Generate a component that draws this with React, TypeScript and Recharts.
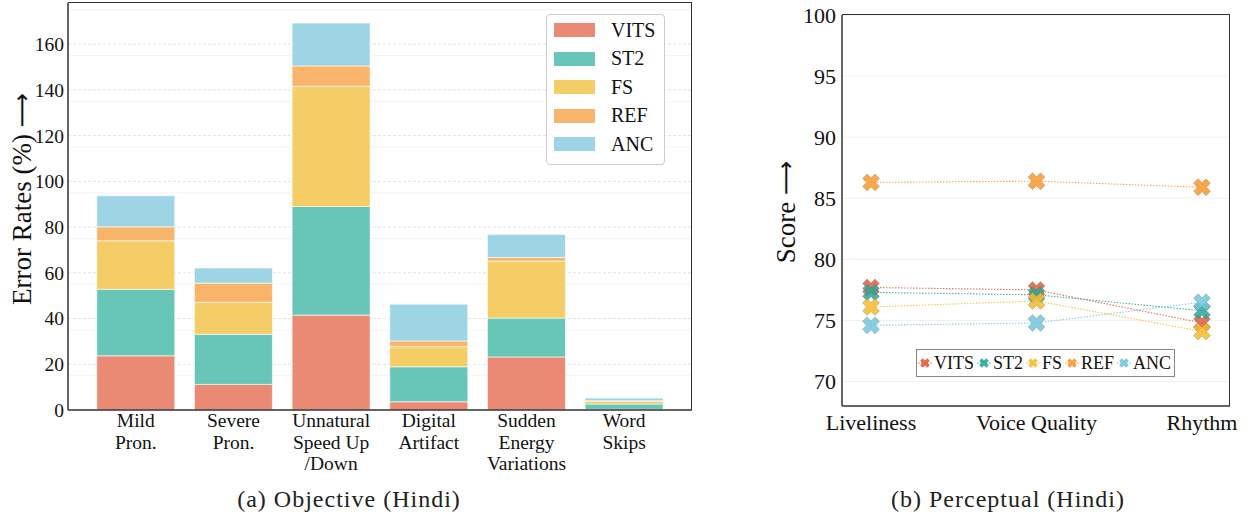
import React from 'react';
import { BarChart, Bar, LineChart, Line, XAxis, YAxis, CartesianGrid, Legend } from 'recharts';

// (a) objective error rates, stacked per model
const errorCategories = ['Mild\nPron.', 'Severe\nPron.', 'Unnatural\nSpeed Up\n/Down', 'Digital\nArtifact', 'Sudden\nEnergy\nVariations', 'Word\nSkips'];
const models = ['VITS', 'ST2', 'FS', 'REF', 'ANC'];
const vitsErr = [23.7, 11.2, 41.5, 3.6, 23.2, 0.3];
const st2Err = [29.1, 21.9, 47.5, 15.3, 17.0, 2.3];
const fsErr = [21.2, 14.0, 52.6, 8.8, 24.9, 1.3];
const refErr = [6.1, 8.4, 8.9, 2.5, 1.6, 0.1];
const ancErr = [13.6, 6.6, 18.7, 16.1, 10.1, 1.2];
const errorTicks = [0, 20, 40, 60, 80, 100, 120, 140, 160];
const errorMinor = [5, 10, 15, 25, 30, 35, 45, 50, 55, 65, 70, 75, 85, 90, 95, 105, 110, 115, 125, 130, 135, 145, 150, 155, 165, 170, 175];

// (b) perceptual scores
const aspects = ['Liveliness', 'Voice Quality', 'Rhythm'];
const vitsScore = [77.7, 77.5, 74.8];
const st2Score = [77.3, 77.1, 75.8];
const fsScore = [76.1, 76.6, 74.1];
const refScore = [86.3, 86.4, 85.9];
const ancScore = [74.6, 74.8, 76.5];
const scoreTicks = [70, 75, 80, 85, 90, 95, 100];
const scoreMinor = [69, 71, 72, 73, 74, 76, 77, 78, 79, 81, 82, 83, 84, 86, 87, 88, 89, 91, 92, 93, 94, 96, 97, 98, 99];

const barColors = ['#EA8A74', '#67C6B7', '#F5CD67', '#F9B46B', '#9ED5E5'];
const lineColors = ['#E05C3C', '#2AA697', '#F5BC2C', '#F7982C', '#72C5DC'];

const serif = "'Liberation Serif', 'Times New Roman', serif";

const errorData = errorCategories.map((c, i) => ({
  name: c,
  VITS: vitsErr[i],
  ST2: st2Err[i],
  FS: fsErr[i],
  REF: refErr[i],
  ANC: ancErr[i],
}));

const scoreData = aspects.map((a, i) => ({
  name: a,
  VITS: vitsScore[i],
  ST2: st2Score[i],
  FS: fsScore[i],
  REF: refScore[i],
  ANC: ancScore[i],
}));

// thick "X" marker, like matplotlib's filled X
const xPath = (cx: number, cy: number, a: number) => {
  const w = a * 0.36;
  const pts = [[-w, -a], [w, -a], [w, -w], [a, -w], [a, w], [w, w], [w, a], [-w, a], [-w, w], [-a, w], [-a, -w], [-w, -w]];
  const s = Math.SQRT1_2;
  return pts.map(([x, y], i) => `${i ? 'L' : 'M'}${(cx + (x - y) * s).toFixed(2)},${(cy + (x + y) * s).toFixed(2)}`).join(' ') + ' Z';
};

const makeDot = (color: string) => (props: any) => {
  const { cx, cy, index } = props;
  if (cx == null || cy == null) return <g key={index} />;
  return (
    <path key={index} d={xPath(cx, cy, 8.8)} fill={color} fillOpacity={0.85} stroke="#777" strokeOpacity={0.5} strokeWidth={0.7} />
  );
};

const CategoryTick = (props: any) => {
  const { x, y, payload } = props;
  const lines = String(payload.value).split('\n');
  return (
    <text x={x} y={y} textAnchor="middle" fontFamily={serif} fontSize={19.5} fill="#111">
      {lines.map((l, i) => (
        <tspan key={i} x={x} dy={i === 0 ? 17 : 21.5}>{l}</tspan>
      ))}
    </text>
  );
};

const BarLegend = () => (
  <div style={{ border: '1px solid #cccccc', borderRadius: 4, background: 'rgba(255,255,255,0.9)', padding: '1px 0 5px 7px', width: 110, fontFamily: serif, fontSize: 20, color: '#111' }}>
    {models.map((m, i) => (
      <div key={m} style={{ display: 'flex', alignItems: 'center', height: 28.5 }}>
        <span style={{ display: 'inline-block', width: 41, height: 14, background: barColors[i], marginRight: 16 }} />
        {m}
      </div>
    ))}
  </div>
);

const LineLegend = () => (
  <div style={{ border: '1px solid #888', background: '#fff', height: 28, boxSizing: 'border-box', display: 'flex', alignItems: 'center', padding: '0 3px 0 1px', fontFamily: serif, fontSize: 18, color: '#111', whiteSpace: 'nowrap' }}>
    {models.map((m, i) => (
      <div key={m} style={{ display: 'flex', alignItems: 'center', marginLeft: i === 0 ? 0 : 3 }}>
        <svg width={14} height={20} style={{ flex: 'none' }}>
          <line x1={0} y1={10} x2={14} y2={10} stroke={lineColors[i]} strokeDasharray="1.5 1.5" strokeWidth={1} />
          <path d={xPath(7, 10, 5)} fill={lineColors[i]} fillOpacity={0.9} />
        </svg>
        <span style={{ marginLeft: 2 }}>{m}</span>
      </div>
    ))}
  </div>
);

const frame = { stroke: '#333', strokeWidth: 1.5 };
const boxEdge = '1.5px solid #333';

export default function App() {
  return (
    <div style={{ position: 'absolute', left: 0, top: 0, width: 1250, height: 520, background: '#fff', fontFamily: serif }}>
      <div style={{ position: 'absolute', left: 0, top: 0 }}>
        <BarChart width={700} height={480} data={errorData} margin={{ top: 3, right: 8, bottom: 0, left: 20 }} barCategoryGap="10%">
          <CartesianGrid horizontalValues={errorMinor} vertical={false} stroke="#f3f3f3" />
          <CartesianGrid horizontalValues={errorTicks} vertical={false} stroke="#e2e2e2" strokeDasharray="3 2" />
          <XAxis dataKey="name" interval={0} height={70} padding={{ left: 19, right: 19 }} tickLine={false} tickSize={0} tickMargin={0} axisLine={frame} tick={<CategoryTick />} />
          <YAxis
            domain={[0, 178]}
            ticks={errorTicks}
            width={48}
            tickLine={false}
            tickSize={0}
            tickMargin={4}
            axisLine={frame}
            tick={{ fill: '#111', fontSize: 19.5, fontFamily: serif }}
            label={{
              content: () => (
                <text x={22} y={199} transform="rotate(-90 22 199)" textAnchor="middle" dominantBaseline="central" fontFamily={serif} fontSize={27} fill="#111">
                  Error Rates (%) <tspan fontFamily="'DejaVu Sans'" fontSize={24}>⟶</tspan>
                </text>
              ),
            }}
          />
          <Legend layout="vertical" align="center" verticalAlign="middle" content={<BarLegend />} wrapperStyle={{ left: 546, top: 14, width: 'auto', height: 'auto' }} />
          {models.map((m, i) => (
            <Bar key={m} dataKey={m} stackId="err" fill={barColors[i]} stroke="#fff" strokeWidth={0.6} isAnimationActive={false} />
          ))}
        </BarChart>
        {/* top and right spines of the plot box */}
        <div style={{ position: 'absolute', left: 68, top: 2.25, width: 623.25, height: 407, borderTop: boxEdge, borderRight: boxEdge, pointerEvents: 'none' }} />
      </div>

      <div style={{ position: 'absolute', left: 760, top: 0 }}>
        <LineChart width={490} height={480} data={scoreData} margin={{ top: 15, right: 20, bottom: 0, left: 40 }}>
          <CartesianGrid horizontalValues={[...scoreMinor, ...scoreTicks]} vertical={false} stroke="#f1f1f1" />
          <XAxis dataKey="name" interval={0} height={74} padding={{ left: 29, right: 28 }} tickLine={false} tickSize={0} tickMargin={0} axisLine={frame}
            tick={(p: any) => (
              <text x={p.x} y={p.y} dy={24} textAnchor="middle" fontFamily={serif} fontSize={22} fill="#111">{p.payload.value}</text>
            )}
          />
          <YAxis
            domain={[68, 100]}
            ticks={scoreTicks}
            allowDataOverflow
            width={42}
            tickLine={false}
            tickSize={0}
            tickMargin={6}
            axisLine={frame}
            tick={{ fill: '#111', fontSize: 22, fontFamily: serif }}
            label={{
              content: () => (
                <text x={26} y={212} transform="rotate(-90 26 212)" textAnchor="middle" dominantBaseline="central" fontFamily={serif} fontSize={27} fill="#111">
                  Score <tspan fontFamily="'DejaVu Sans'" fontSize={24}>⟶</tspan>
                </text>
              ),
            }}
          />
          <Legend layout="vertical" align="center" verticalAlign="middle" content={<LineLegend />} wrapperStyle={{ left: 156, top: 349, width: 'auto', height: 'auto' }} />
          {models.map((m, i) => (
            <Line key={m} type="linear" dataKey={m} stroke={lineColors[i]} strokeOpacity={0.85} strokeWidth={1.1} strokeDasharray="1.5 1.5" dot={makeDot(lineColors[i])} activeDot={false} isAnimationActive={false} />
          ))}
        </LineChart>
        <div style={{ position: 'absolute', left: 82, top: 14.25, width: 387.25, height: 391, borderTop: boxEdge, borderRight: boxEdge, pointerEvents: 'none' }} />
      </div>

      <div style={{ position: 'absolute', left: 349, top: 511, transform: 'translate(-50%, -100%)', fontSize: 24, letterSpacing: 1, whiteSpace: 'nowrap', color: '#222', lineHeight: 1 }}>
        (a) Objective (Hindi)
      </div>
      <div style={{ position: 'absolute', left: 1008, top: 511, transform: 'translate(-50%, -100%)', fontSize: 24, letterSpacing: 1, whiteSpace: 'nowrap', color: '#222', lineHeight: 1 }}>
        (b) Perceptual (Hindi)
      </div>
    </div>
  );
}
